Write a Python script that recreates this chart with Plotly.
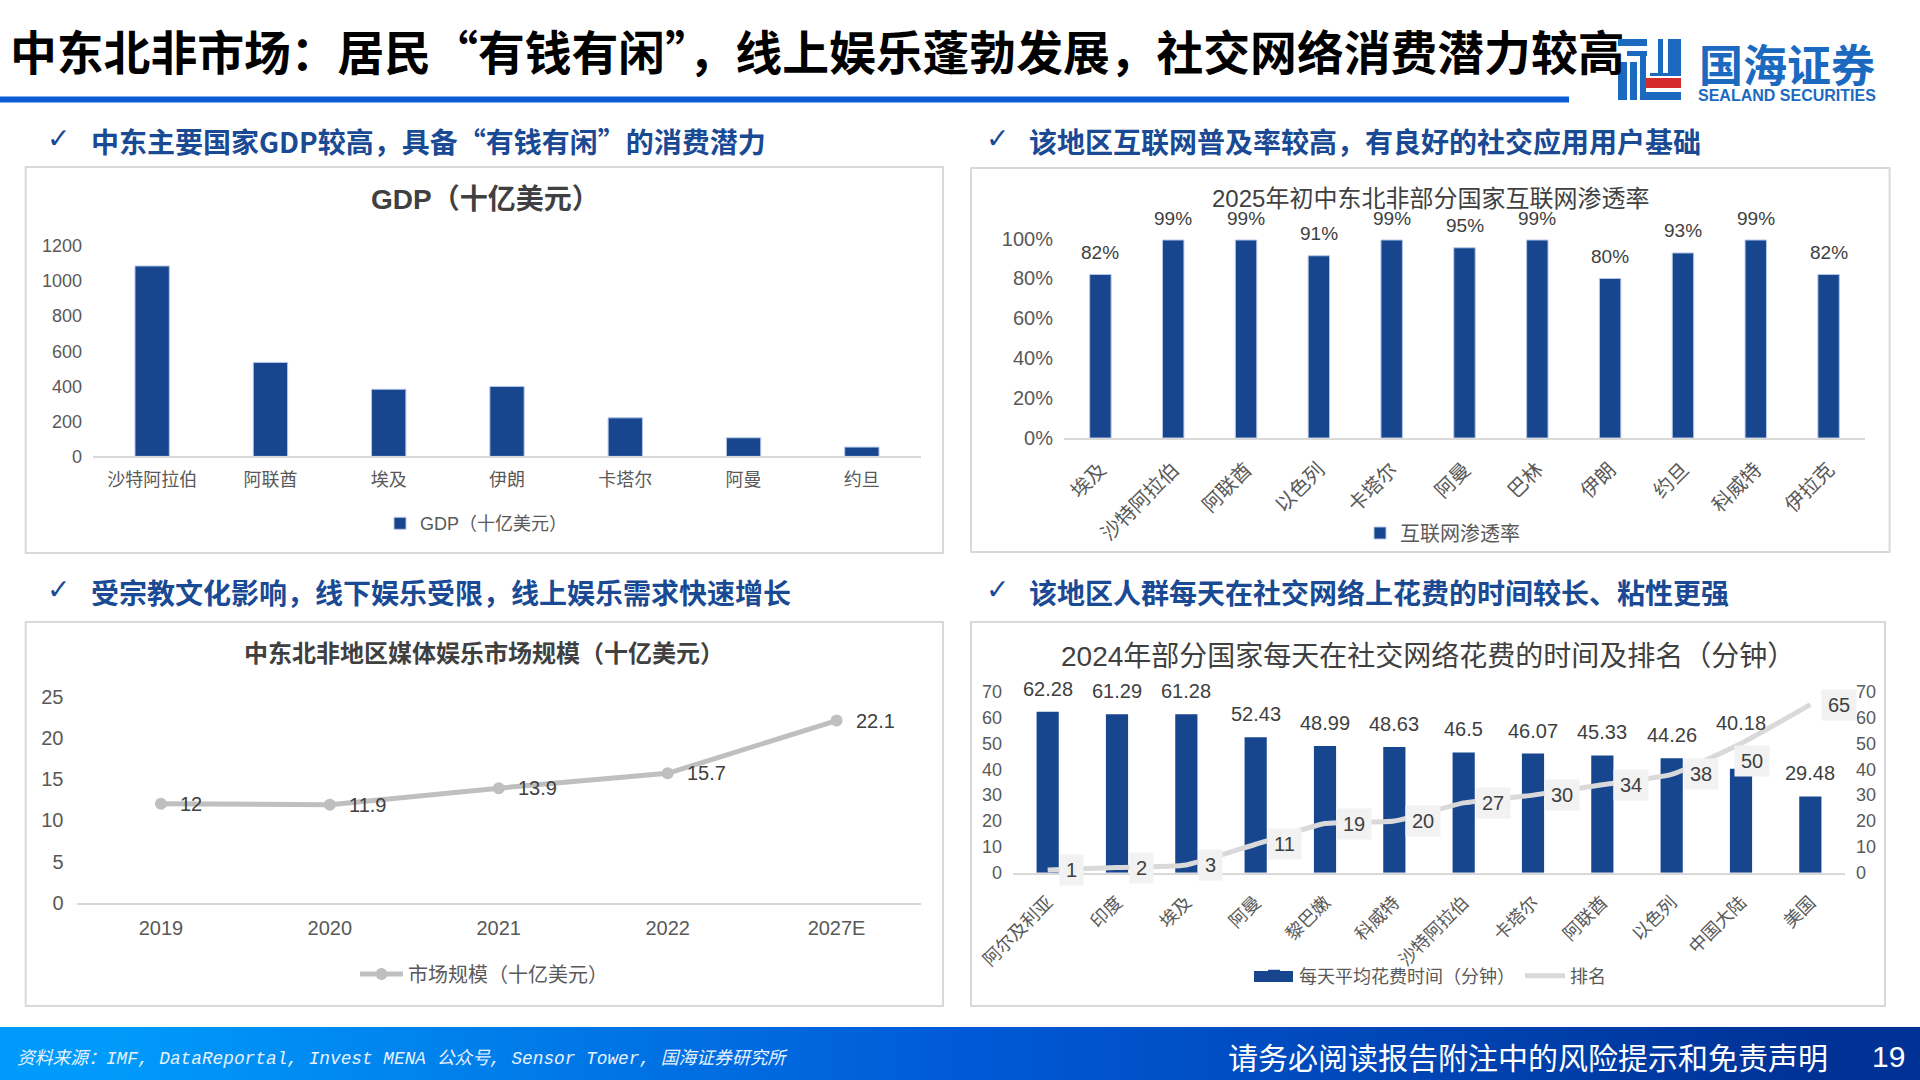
"""Sealand Securities slide: MENA market overview, four charts."""

import plotly.graph_objects as go

W, H = 1920, 1080
BAR_BLUE = "#17468E"
BAR_EDGE = "#B4C7E7"
HEAD_BLUE = "#1A4A94"
TICK_GREY = "#595959"
TEXT_GREY = "#404040"
AXIS_GREY = "#D9D9D9"
FONT = "Liberation Sans, Noto Sans CJK SC, sans-serif"
CJK = "Noto Sans CJK SC, sans-serif"

gdp_countries = ["沙特阿拉伯", "阿联酋", "埃及", "伊朗", "卡塔尔", "阿曼", "约旦"]
gdp_values = [1086, 536, 383, 399, 220, 106, 53]

net_countries = ["埃及", "沙特阿拉伯", "阿联酋", "以色列", "卡塔尔", "阿曼", "巴林", "伊朗", "约旦", "科威特", "伊拉克"]
net_values = [0.82, 0.993, 0.993, 0.914, 0.993, 0.954, 0.993, 0.80, 0.928, 0.993, 0.82]

market_years = ["2019", "2020", "2021", "2022", "2027E"]
market_values = [12, 11.9, 13.9, 15.7, 22.1]

social_countries = ["阿尔及利亚", "印度", "埃及", "阿曼", "黎巴嫩", "科威特", "沙特阿拉伯", "卡塔尔", "阿联酋", "以色列", "中国大陆", "美国"]
social_minutes = [62.28, 61.29, 61.28, 52.43, 48.99, 48.63, 46.5, 46.07, 45.33, 44.26, 40.18, 29.48]
social_rank = [1, 2, 3, 11, 19, 20, 27, 30, 34, 38, 50, 65]

footer_stops = [0, 1, 2, 3, 4, 5, 6, 7, 8]


def px(x):
    return x / W


def py(y):
    return 1 - y / H


def text(label, x, y, size, color=TEXT_GREY, bold=False, anchor="center", family=FONT, **kw):
    # Free text placed in page pixels
    return dict(
        text=label, xref="paper", yref="paper", x=px(x), y=py(y), xanchor=anchor, yanchor="middle",
        showarrow=False, font=dict(family=family, size=size, color=color, weight=700 if bold else 400, **kw),
    )


def box(x0, y0, x1, y1, fill=None, line=None, width=0):
    return dict(
        type="rect", xref="paper", yref="paper", x0=px(x0), x1=px(x1), y0=py(y0), y1=py(y1),
        fillcolor=fill, line=dict(color=line, width=width), layer="below",
    )


def x_axis(left, right, anchor, count, size, angle=0, standoff=6):
    return dict(
        domain=[px(left), px(right)], anchor=anchor, type="category", range=[-0.5, count - 0.5], showgrid=False,
        zeroline=False, showline=True, linecolor=AXIS_GREY, linewidth=2, ticks="", tickangle=angle,
        ticklabelstandoff=standoff, tickfont=dict(family=FONT, size=size, color=TICK_GREY),
    )


def y_axis(top, bottom, anchor, y_max, step, size, standoff=10, **kw):
    return dict(
        domain=[py(bottom), py(top)], anchor=anchor, range=[0, y_max], dtick=step, showgrid=False,
        zeroline=False, showline=False, ticks="", ticklabelstandoff=standoff,
        tickfont=dict(family=FONT, size=size, color=TICK_GREY), **kw,
    )


def legend_at(x, y, size, item_width=30, **kw):
    return dict(
        x=px(x), y=py(y), xanchor="left", yanchor="middle", bgcolor="rgba(0,0,0,0)", itemwidth=item_width,
        orientation="h", font=dict(family=FONT, size=size, color=TICK_GREY), **kw,
    )


def bar(x, y, name, gap, xaxis, yaxis, legend, edge=1):
    return go.Bar(
        x=x, y=y, name=name, xaxis=xaxis, yaxis=yaxis, legend=legend,
        marker=dict(color=BAR_BLUE, line=dict(color=BAR_EDGE, width=edge)), width=1 - gap, showlegend=True,
    )


traces = [
    bar(gdp_countries, gdp_values, "GDP（十亿美元）", 0.71, "x", "y", "legend"),
    bar(net_countries, net_values, "互联网渗透率", 0.706, "x2", "y2", "legend2"),
    go.Scatter(
        x=market_years, y=market_values, name="市场规模（十亿美元）", xaxis="x3", yaxis="y3", legend="legend3",
        mode="lines+markers", line=dict(color="#BFBFBF", width=5), marker=dict(color="#BFBFBF", size=12),
    ),
    # No edge here, so the legend square blends into the wide swatch behind it
    bar(social_countries, social_minutes, "每天平均花费时间（分钟）", 0.68, "x4", "y4", "legend4", edge=0),
    go.Scatter(
        x=social_countries, y=social_rank, name="排名", xaxis="x4", yaxis="y5", legend="legend4",
        mode="lines", line=dict(color="#D9D9D9", width=5, shape="spline", smoothing=0.5),
    ),
    # Footer band gradient
    go.Heatmap(
        z=[footer_stops], xaxis="x5", yaxis="y6", showscale=False, zsmooth="best", hoverinfo="skip",
        colorscale=[[0, "#009BFA"], [0.5, "#005AD7"], [1, "#003296"]],
    ),
]

annotations = [
    text("中东北非市场：居民“有钱有闲”，线上娱乐蓬勃发展，社交网络消费潜力较高", 8, 49, 46.8, "#000000", True, "left", CJK),
    text("国海证券", 1787, 63, 44, "#1B6AC0", True, family=CJK),
    text("SEALAND SECURITIES", 1787, 95, 16, "#1B6AC0", True),
    text("中东主要国家GDP较高，具备“有钱有闲”的消费潜力", 89, 141, 28, HEAD_BLUE, True, "left", CJK),
    text("该地区互联网普及率较高，有良好的社交应用用户基础", 1027, 141, 28, HEAD_BLUE, True, "left", CJK),
    text("受宗教文化影响，线下娱乐受限，线上娱乐需求快速增长", 89, 592, 28, HEAD_BLUE, True, "left", CJK),
    text("该地区人群每天在社交网络上花费的时间较长、粘性更强", 1027, 592, 28, HEAD_BLUE, True, "left", CJK),
    text("GDP（十亿美元）", 485, 200, 28, TEXT_GREY, True),
    text("2025年初中东北非部分国家互联网渗透率", 1430, 198, 24),
    text("中东北非地区媒体娱乐市场规模（十亿美元）", 484, 653, 24, TEXT_GREY, True),
    text("2024年部分国家每天在社交网络花费的时间及排名（分钟）", 1428, 656, 28),
    text("资料来源：IMF, DataReportal, Invest MENA 公众号, Sensor Tower, 国海证券研究所", 15, 1058, 17.8,
         "#E6F2FF", False, "left", "Liberation Mono, Noto Sans CJK SC", style="italic"),
    text("请务必阅读报告附注中的风险提示和免责声明", 1226, 1056, 30, "#FFFFFF", False, "left", CJK),
    text("19", 1888, 1056, 30, "#FFFFFF"),
]
for check_x, check_y in [(58, 138), (997, 138), (58, 589), (997, 589)]:
    annotations.append(text("✓", check_x, check_y, 28, HEAD_BLUE, family="DejaVu Sans"))

# Category axes take the index here: a string like "2019" would be read as a position
for i, value in enumerate(net_values):
    annotations.append(dict(
        text=f"{value:.0%}", x=i, y=value, xref="x2", yref="y2", yanchor="middle", yshift=22,
        showarrow=False, font=dict(family=FONT, size=19, color=TEXT_GREY),
    ))
for i, value in enumerate(market_values):
    annotations.append(dict(
        text=str(value), x=i, y=value, xref="x3", yref="y3", xanchor="left", xshift=17,
        showarrow=False, font=dict(family=FONT, size=20, color=TEXT_GREY),
    ))
# 中国大陆's labels were moved by hand in the source chart, so they get their own offsets
minute_lift = {10: 46}
rank_right = {0: 24, 1: 24, 2: 24, 10: 11}
rank_drop = {10: 18}
for i, value in enumerate(social_minutes):
    annotations.append(dict(
        text=str(value), x=i, y=value, xref="x4", yref="y4", yanchor="middle", yshift=minute_lift.get(i, 23),
        showarrow=False, font=dict(family=FONT, size=20, color=TEXT_GREY),
    ))
for i, value in enumerate(social_rank):
    annotations.append(dict(
        text=str(value), x=i, y=value, xref="x4", yref="y5", xanchor="center", xshift=rank_right.get(i, 29),
        yshift=-rank_drop.get(i, 0), showarrow=False, bgcolor="#F2F2F2", borderpad=6, height=18,
        font=dict(family=FONT, size=20, color=TEXT_GREY),
    ))

shapes = [
    box(0, 96.5, 1569, 102.5, fill="#0B5CD5"),
    box(25.7, 167, 943, 553, fill="#FFFFFF", line=AXIS_GREY, width=2),
    box(971, 168, 1889.6, 552, fill="#FFFFFF", line=AXIS_GREY, width=2),
    box(25.7, 622, 943, 1006, fill="#FFFFFF", line=AXIS_GREY, width=2),
    box(971, 622, 1885, 1006, fill="#FFFFFF", line=AXIS_GREY, width=2),
    # Wide swatch of the bar series in the lower right legend
    box(1254, 971, 1293, 982, fill=BAR_BLUE),
]
# Logo mark, rough blocks
for x0, y0, x1, y1, colour in [
    (1618, 39, 1647, 46, "#1B6AC0"), (1627, 51, 1647, 56, "#1B6AC0"), (1618, 62, 1627, 100, "#1B6AC0"),
    (1630, 62, 1637, 100, "#1B6AC0"), (1640, 56, 1646, 100, "#1B6AC0"), (1658, 39, 1663, 75, "#1B6AC0"),
    (1668, 39, 1681, 75, "#1B6AC0"), (1650, 73, 1681, 76, "#1B6AC0"), (1645, 78, 1681, 88, "#D42B2B"),
    (1645, 92, 1681, 100, "#1B6AC0"),
]:
    shapes.append(box(x0, y0, x1, y1, fill=colour))

fig = go.Figure(data=traces)
fig.update_layout(
    width=W, height=H, margin=dict(l=0, r=0, t=0, b=0, autoexpand=False), paper_bgcolor="#FFFFFF",
    plot_bgcolor="rgba(0,0,0,0)", font=dict(family=FONT), barmode="overlay", annotations=annotations, shapes=shapes,
    xaxis=x_axis(93, 921, "y", len(gdp_countries), 18),
    yaxis=y_axis(246, 456.4, "x", 1200, 200, 18),
    xaxis2=x_axis(1064, 1865, "y2", len(net_countries), 20, -45, standoff=10),
    yaxis2=y_axis(238.6, 438, "x2", 1, 0.2, 20, tickformat=".0%"),
    xaxis3=x_axis(76.5, 921, "y3", len(market_years), 20),
    yaxis3=y_axis(696.7, 902.7, "x3", 25, 5, 20, standoff=12),
    xaxis4=x_axis(1013, 1845, "y4", len(social_countries), 18, -45, standoff=10),
    yaxis4=y_axis(691.7, 872.7, "x4", 70, 10, 18),
    yaxis5=y_axis(691.7, 872.7, "x4", 70, 10, 18, overlaying="y4", side="right"),
    xaxis5=dict(domain=[0, 1], anchor="y6", visible=False, fixedrange=True),
    yaxis6=dict(domain=[0, py(1027)], anchor="x5", visible=False, fixedrange=True),
    legend=legend_at(380, 523.6, 18),
    legend2=legend_at(1360, 533, 20),
    legend3=legend_at(355, 974, 20, item_width=43),
    legend4=legend_at(1249, 976, 18, item_width=40),
)
fig.write_html(
    "out.html",
    config={"displayModeBar": False},
    post_script="document.body.style.margin='0';document.documentElement.style.overflow='hidden';",
)
